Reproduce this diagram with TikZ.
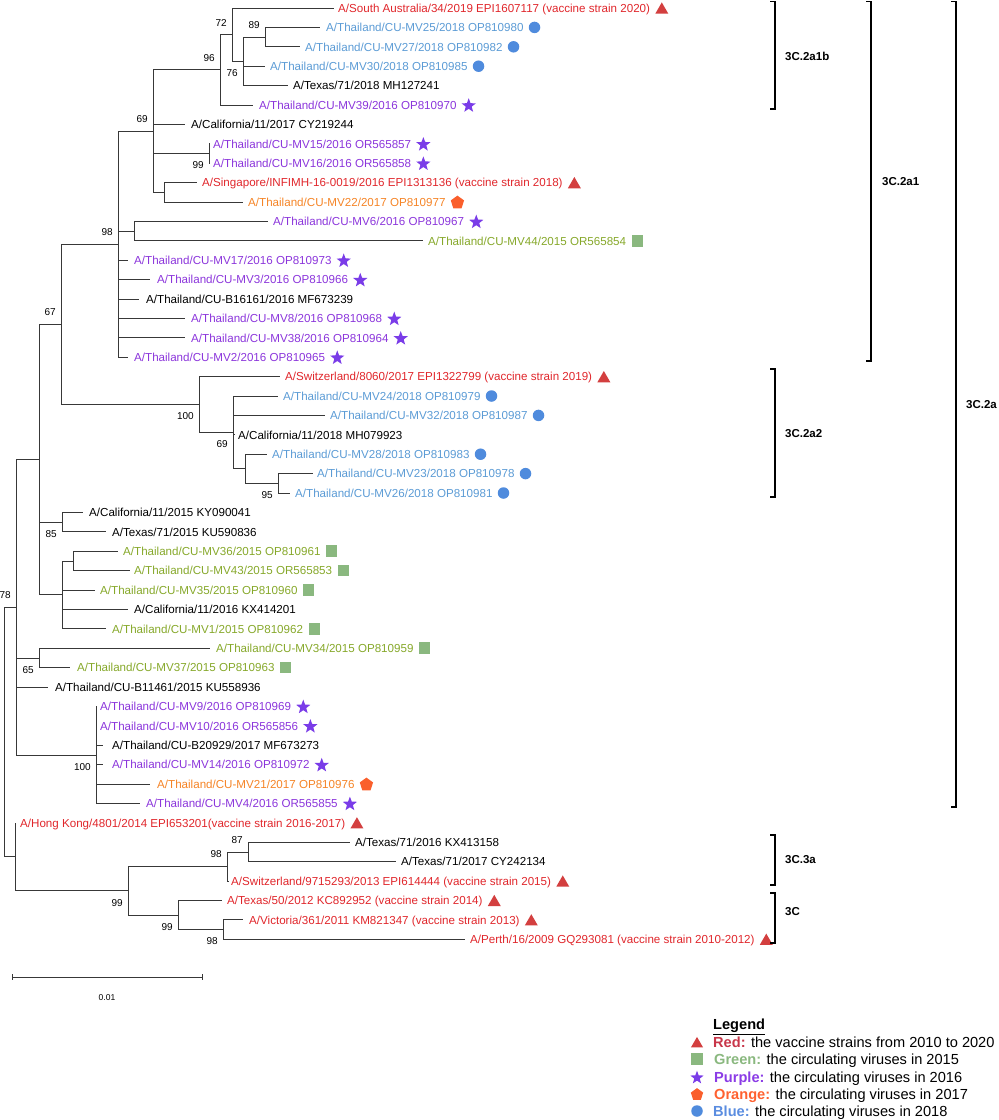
\documentclass[tikz,border=0pt]{standalone}
\usepackage{fontspec}
\setmainfont{Liberation Sans}
\usetikzlibrary{shapes.geometric}
\definecolor{tred}{HTML}{E0262B}
\definecolor{tblue}{HTML}{5B9BD5}
\definecolor{tpurple}{HTML}{8B35DB}
\definecolor{tgreen}{HTML}{86A82A}
\definecolor{torange}{HTML}{F58426}
\definecolor{sred}{HTML}{D33F3F}
\definecolor{sblue}{HTML}{4F8BDD}
\definecolor{spurple}{HTML}{7A3CE8}
\definecolor{sgreen}{HTML}{8AB87F}
\definecolor{sorange}{HTML}{FA5F2C}
\definecolor{lred}{HTML}{C8374A}
\definecolor{lgreen}{HTML}{8AB87F}
\definecolor{lpurple}{HTML}{8B3CE6}
\definecolor{lorange}{HTML}{FF6130}
\definecolor{lblue}{HTML}{5B8DE0}
\newcommand\lblfont{\fontsize{11.6}{13}\selectfont}
\newcommand\bsfont{\fontsize{10}{11}\selectfont}
\newcommand\legfont{\fontsize{14.6}{16}\selectfont}
\newcommand\myleaf[6]{%
  \coordinate (l#1) at (#2,{8+19.4*#4});
  \node[lab,text=#5] (t#1) at (#3,{8+19.4*#4}) {#6};}
\newcommand\myleafs[7]{\myleaf{#1}{#2}{#3}{#4}{#5}{#6}\node[#7] (s#1) at (t#1.east) {};}
\newcommand\inode[3]{\coordinate (#1) at (#2,{8+19.4*#3});}
\tikzset{
  br/.style={draw=black!78, line width=0.8pt},
  lab/.style={anchor=west, inner sep=0pt, font=\lblfont, text height=8.4pt, text depth=0pt},
  bsa/.style={anchor=east, inner sep=0pt, font=\bsfont, xshift=-5pt, yshift=12pt},
  bsb/.style={anchor=east, inner sep=0pt, font=\bsfont, xshift=-5pt, yshift=-12pt},
  symtri/.style={regular polygon, regular polygon sides=3, fill=sred, minimum size=15pt, inner sep=0pt, yshift=-1.9pt},
  symcir/.style={circle, fill=sblue, minimum size=11.5pt, inner sep=0pt},
  symsq/.style={rectangle, fill=sgreen, minimum size=11.5pt, inner sep=0pt},
  symstar/.style={star, star points=5, star point ratio=2.4, fill=spurple, minimum size=15pt, inner sep=0pt, yshift=-0.7pt},
  sympent/.style={regular polygon, regular polygon sides=5, fill=sorange, minimum size=14pt, inner sep=0pt, yshift=-0.6pt},
  ttri/.style={symtri, xshift=11.5pt},
  tcir/.style={symcir, xshift=10.8pt},
  tsq/.style={symsq, xshift=11pt},
  tstar/.style={symstar, xshift=12pt},
  tpent/.style={sympent, xshift=11.7pt},
  bk/.style={draw=black, line width=1.4pt},
  clade/.style={anchor=west, inner sep=0pt, font=\fontsize{11.5}{13}\selectfont\bfseries},
  lgtext/.style={anchor=west, inner sep=0pt, font=\legfont, text height=10.5pt, text depth=0pt},
}
\begin{document}
\begin{tikzpicture}[x=1pt, y=-1pt]
\useasboundingbox (0,0) rectangle (999,1120);
% ---------- leaves ----------
\myleafs{0}{334}{338}{0}{tred}{A/South Australia/34/2019 EPI1607117 (vaccine strain 2020)}{ttri}
\myleafs{1}{320}{326}{1}{tblue}{A/Thailand/CU-MV25/2018 OP810980}{tcir}
\myleafs{2}{300}{305}{2}{tblue}{A/Thailand/CU-MV27/2018 OP810982}{tcir}
\myleafs{3}{265}{270}{3}{tblue}{A/Thailand/CU-MV30/2018 OP810985}{tcir}
\myleaf{4}{288}{293}{4}{black}{A/Texas/71/2018 MH127241}
\myleafs{5}{253}{259}{5}{tpurple}{A/Thailand/CU-MV39/2016 OP810970}{tstar}
\myleaf{6}{185}{191}{6}{black}{A/California/11/2017 CY219244}
\myleafs{7}{210}{213}{7}{tpurple}{A/Thailand/CU-MV15/2016 OR565857}{tstar}
\myleafs{8}{210}{213}{8}{tpurple}{A/Thailand/CU-MV16/2016 OR565858}{tstar}
\myleafs{9}{197}{202}{9}{tred}{A/Singapore/INFIMH-16-0019/2016 EPI1313136 (vaccine strain 2018)}{ttri}
\myleafs{10}{243}{248}{10}{torange}{A/Thailand/CU-MV22/2017 OP810977}{tpent}
\myleafs{11}{268}{273}{11}{tpurple}{A/Thailand/CU-MV6/2016 OP810967}{tstar}
\myleafs{12}{423}{428}{12}{tgreen}{A/Thailand/CU-MV44/2015 OR565854}{tsq}
\myleafs{13}{128}{134}{13}{tpurple}{A/Thailand/CU-MV17/2016 OP810973}{tstar}
\myleafs{14}{150}{157}{14}{tpurple}{A/Thailand/CU-MV3/2016 OP810966}{tstar}
\myleaf{15}{139}{146}{15}{black}{A/Thailand/CU-B16161/2016 MF673239}
\myleafs{16}{185}{191}{16}{tpurple}{A/Thailand/CU-MV8/2016 OP810968}{tstar}
\myleafs{17}{185}{191}{17}{tpurple}{A/Thailand/CU-MV38/2016 OP810964}{tstar}
\myleafs{18}{128}{134}{18}{tpurple}{A/Thailand/CU-MV2/2016 OP810965}{tstar}
\myleafs{19}{280}{285}{19}{tred}{A/Switzerland/8060/2017 EPI1322799 (vaccine strain 2019)}{ttri}
\myleafs{20}{278}{283}{20}{tblue}{A/Thailand/CU-MV24/2018 OP810979}{tcir}
\myleafs{21}{325}{330}{21}{tblue}{A/Thailand/CU-MV32/2018 OP810987}{tcir}
\myleaf{22}{235}{238}{22}{black}{A/California/11/2018 MH079923}
\myleafs{23}{267}{272}{23}{tblue}{A/Thailand/CU-MV28/2018 OP810983}{tcir}
\myleafs{24}{313}{317}{24}{tblue}{A/Thailand/CU-MV23/2018 OP810978}{tcir}
\myleafs{25}{290}{295}{25}{tblue}{A/Thailand/CU-MV26/2018 OP810981}{tcir}
\myleaf{26}{83}{89}{26}{black}{A/California/11/2015 KY090041}
\myleaf{27}{106}{112}{27}{black}{A/Texas/71/2015 KU590836}
\myleafs{28}{118}{123}{28}{tgreen}{A/Thailand/CU-MV36/2015 OP810961}{tsq}
\myleafs{29}{130}{134}{29}{tgreen}{A/Thailand/CU-MV43/2015 OR565853}{tsq}
\myleafs{30}{95}{100}{30}{tgreen}{A/Thailand/CU-MV35/2015 OP810960}{tsq}
\myleaf{31}{128}{134}{31}{black}{A/California/11/2016 KX414201}
\myleafs{32}{106}{112}{32}{tgreen}{A/Thailand/CU-MV1/2015 OP810962}{tsq}
\myleafs{33}{210}{216}{33}{tgreen}{A/Thailand/CU-MV34/2015 OP810959}{tsq}
\myleafs{34}{70}{77}{34}{tgreen}{A/Thailand/CU-MV37/2015 OP810963}{tsq}
\myleaf{35}{48}{55}{35}{black}{A/Thailand/CU-B11461/2015 KU558936}
\myleafs{36}{96}{100}{36}{tpurple}{A/Thailand/CU-MV9/2016 OP810969}{tstar}
\myleafs{37}{96}{100}{37}{tpurple}{A/Thailand/CU-MV10/2016 OR565856}{tstar}
\myleaf{38}{103}{112}{38}{black}{A/Thailand/CU-B20929/2017 MF673273}
\myleafs{39}{103}{112}{39}{tpurple}{A/Thailand/CU-MV14/2016 OP810972}{tstar}
\myleafs{40}{150}{157}{40}{torange}{A/Thailand/CU-MV21/2017 OP810976}{tpent}
\myleafs{41}{140}{146}{41}{tpurple}{A/Thailand/CU-MV4/2016 OR565855}{tstar}
\myleafs{42}{15}{20}{42}{tred}{A/Hong Kong/4801/2014 EPI653201(vaccine strain 2016-2017)}{ttri}
\myleaf{43}{350}{355}{43}{black}{A/Texas/71/2016 KX413158}
\myleaf{44}{396}{401}{44}{black}{A/Texas/71/2017 CY242134}
\myleafs{45}{229}{231}{45}{tred}{A/Switzerland/9715293/2013 EPI614444 (vaccine strain 2015)}{ttri}
\myleafs{46}{222}{227}{46}{tred}{A/Texas/50/2012 KC892952 (vaccine strain 2014)}{ttri}
\myleafs{47}{243}{249}{47}{tred}{A/Victoria/361/2011 KM821347 (vaccine strain 2013)}{ttri}
\myleafs{48}{465}{470}{48}{tred}{A/Perth/16/2009 GQ293081 (vaccine strain 2010-2012)}{ttri}
% ---------- internal nodes ----------
\inode{n89}{265}{1.5}
\inode{n76}{243}{2.75}
\inode{n72}{232}{1.375}
\inode{n96}{220}{3.1875}
\inode{n99a}{209}{7.5}
\inode{nSing}{164}{9.5}
\inode{n69}{153}{6.34375}
\inode{nMV6}{134}{11.5}
\inode{n98}{118}{12.171875}
\inode{n95}{278}{24.5}
\inode{nMV28}{245}{23.75}
\inode{n69b}{233}{21.875}
\inode{n100}{199}{20.4375}
\inode{n67}{61}{16.3047}
\inode{n85}{62}{26.5}
\inode{nMV36}{73}{28.5}
\inode{nGreen}{62}{30.25}
\inode{n39}{39}{23.2773}
\inode{n65}{39}{33.5}
\inode{n100b}{96}{38.5}
\inode{n78}{16}{30.8887}
\inode{n87}{248}{43.5}
\inode{n98c}{227}{44.25}
\inode{n98d}{223}{47.5}
\inode{n99b}{178}{46.75}
\inode{n99}{128}{45.5}
\inode{nX}{15}{43.75}
\inode{root}{4}{37.3194}
% ---------- branches ----------
\draw[br] (n89) |- (l1) (n89) |- (l2);
\draw[br] (n76) |- (n89) (n76) |- (l3) (n76) |- (l4);
\draw[br] (n72) |- (l0) (n72) |- (n76);
\draw[br] (n96) |- (n72) (n96) |- (l5);
\draw[br] (n99a) |- (l7) (n99a) |- (l8);
\draw[br] (nSing) |- (l9) (nSing) |- (l10);
\draw[br] (n69) |- (n96) (n69) |- (l6) (n69) |- (n99a) (n69) |- (nSing);
\draw[br] (nMV6) |- (l11) (nMV6) |- (l12);
\draw[br] (n98) |- (n69) (n98) |- (nMV6) (n98) |- (l13) (n98) |- (l14) (n98) |- (l15) (n98) |- (l16) (n98) |- (l17) (n98) |- (l18);
\draw[br] (n95) |- (l24) (n95) |- (l25);
\draw[br] (nMV28) |- (l23) (nMV28) |- (n95);
\draw[br] (n69b) |- (l20) (n69b) |- (l21) (n69b) |- (l22) (n69b) |- (nMV28);
\draw[br] (n100) |- (l19) (n100) |- (n69b);
\draw[br] (n67) |- (n98) (n67) |- (n100);
\draw[br] (n85) |- (l26) (n85) |- (l27);
\draw[br] (nMV36) |- (l28) (nMV36) |- (l29);
\draw[br] (nGreen) |- (nMV36) (nGreen) |- (l30) (nGreen) |- (l31) (nGreen) |- (l32);
\draw[br] (n39) |- (n67) (n39) |- (n85) (n39) |- (nGreen);
\draw[br] (n65) |- (l33) (n65) |- (l34);
\draw[br] (n100b) |- (l36) (n100b) |- (l37) (n100b) |- (l38) (n100b) |- (l39) (n100b) |- (l40) (n100b) |- (l41);
\draw[br] (n78) |- (n39) (n78) |- (n65) (n78) |- (l35) (n78) |- (n100b);
\draw[br] (n87) |- (l43) (n87) |- (l44);
\draw[br] (n98c) |- (n87) (n98c) |- (l45);
\draw[br] (n98d) |- (l47) (n98d) |- (l48);
\draw[br] (n99b) |- (l46) (n99b) |- (n98d);
\draw[br] (n99) |- (n98c) (n99) |- (n99b);
\draw[br] (nX) |- (l42) (nX) |- (n99);
\draw[br] (root) |- (n78) (root) |- (nX);
% ---------- bootstrap values ----------
\node[bsa] (b72) at (n72) {72};
\node[bsa] (b89) at (n89) {89};
\node[bsa] (b96) at (n96) {96};
\node[bsb] (b76) at (n76) {76};
\node[bsa] (b69) at (n69) {69};
\node[bsb] (b99a) at (n99a) {99};
\node[bsa] (b98) at (n98) {98};
\node[bsa] (b67) at (n67) {67};
\node[bsb] (b100) at (n100) {100};
\node[bsb] (b69b) at (n69b) {69};
\node[bsb] (b95) at (n95) {95};
\node[bsb] (b85) at (n85) {85};
\node[bsa] (b78) at (n78) {78};
\node[bsb] (b65) at (n65) {65};
\node[bsb] (b100b) at (n100b) {100};
\node[bsa] (b87) at (n87) {87};
\node[bsa] (b98c) at (n98c) {98};
\node[bsb] (b99) at (n99) {99};
\node[bsb] (b99b) at (n99b) {99};
\node[bsb] (b98d) at (n98d) {98};
% ---------- clade brackets ----------
\coordinate (k1a) at (775,1.5); \coordinate (k1b) at (775,109);
\draw[bk] ([xshift=-5pt]k1a) -- (k1a) -- (k1b) -- ([xshift=-5pt]k1b);
\node[clade] (c1) at (785,56) {3C.2a1b};
\coordinate (k2a) at (871,1.5); \coordinate (k2b) at (871,361);
\draw[bk] ([xshift=-5pt]k2a) -- (k2a) -- (k2b) -- ([xshift=-5pt]k2b);
\node[clade] (c2) at (882,182) {3C.2a1};
\coordinate (k3a) at (956,1.5); \coordinate (k3b) at (956,807);
\draw[bk] ([xshift=-5pt]k3a) -- (k3a) -- (k3b) -- ([xshift=-5pt]k3b);
\node[clade] (c3) at (966,405) {3C.2a};
\coordinate (k4a) at (775,369); \coordinate (k4b) at (775,497);
\draw[bk] ([xshift=-5pt]k4a) -- (k4a) -- (k4b) -- ([xshift=-5pt]k4b);
\node[clade] (c4) at (785,434) {3C.2a2};
\coordinate (k5a) at (775,835); \coordinate (k5b) at (775,885);
\draw[bk] ([xshift=-5pt]k5a) -- (k5a) -- (k5b) -- ([xshift=-5pt]k5b);
\node[clade] (c5) at (785,860) {3C.3a};
\coordinate (k6a) at (775,893); \coordinate (k6b) at (775,943);
\draw[bk] ([xshift=-5pt]k6a) -- (k6a) -- (k6b) -- ([xshift=-5pt]k6b);
\node[clade] (c6) at (785,912) {3C};
% ---------- scale bar ----------
\coordinate (sbA) at (12,977); \coordinate (sbB) at (202,977);
\draw[br] (sbA) -- (sbB);
\draw[br] ([yshift=3pt]sbA) -- ([yshift=-3pt]sbA);
\draw[br] ([yshift=3pt]sbB) -- ([yshift=-3pt]sbB);
\node[inner sep=0pt, font=\fontsize{8.5}{9}\selectfont] (sbl) at (107,998) {0.01};
% ---------- legend ----------
\node[lgtext] (lgT) at (713,1024) {\textbf{\underline{Legend}}};
\node[symtri, minimum size=14pt] (ls1) at (697,1042) {};
\node[lgtext] (lt1) at (713,1042) {\textcolor{lred}{\textbf{Red:}} the vaccine strains from 2010 to 2020};
\node[symsq] (ls2) at (697,1059) {};
\node[lgtext] (lt2) at (714,1059) {\textcolor{lgreen}{\textbf{Green:}} the circulating viruses in 2015};
\node[symstar, minimum size=14pt] (ls3) at (697,1077) {};
\node[lgtext] (lt3) at (714,1077) {\textcolor{lpurple}{\textbf{Purple:}} the circulating viruses in 2016};
\node[sympent, minimum size=13pt] (ls4) at (697,1094) {};
\node[lgtext] (lt4) at (714,1094) {\textcolor{lorange}{\textbf{Orange:}} the circulating viruses in 2017};
\node[symcir, minimum size=11.5pt] (ls5) at (697,1111) {};
\node[lgtext] (lt5) at (713,1111) {\textcolor{lblue}{\textbf{Blue:}} the circulating viruses in 2018};
\end{tikzpicture}
\end{document}
